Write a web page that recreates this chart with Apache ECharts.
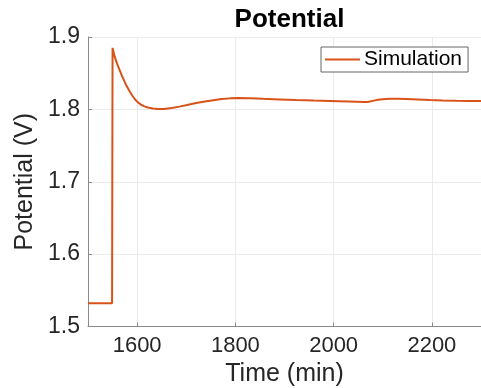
<!DOCTYPE html>
<html>
<head>
<meta charset="utf-8">
<script src="https://cdn.jsdelivr.net/npm/echarts@6/dist/echarts.min.js"></script>
<style>
  html, body { margin: 0; padding: 0; background: #fff; }
  #chart { width: 481px; height: 388px; }
</style>
</head>
<body>
<div id="chart"></div>
<script>
// values
const timeMin = [1500, 1549, 1550, 1554, 1559, 1564, 1569, 1574, 1579, 1585, 1590, 1595, 1601, 1608,
    1615, 1622, 1632, 1642, 1655, 1670, 1686, 1704, 1720, 1738, 1755, 1772, 1789, 1806,
    1830, 1856, 1890, 1924, 1960, 1992, 2030, 2062, 2068, 2074, 2082, 2090, 2100, 2114,
    2130, 2148, 2172, 2196, 2222, 2250, 2275, 2300];
const potential = [1.532, 1.532, 1.885, 1.8735, 1.8635, 1.855, 1.8465, 1.839, 1.8318, 1.8248, 1.8192, 1.8143, 1.8100, 1.8064,
    1.8042, 1.8026, 1.8012, 1.8004, 1.8006, 1.8018, 1.8038, 1.8064, 1.8087, 1.8109, 1.8127, 1.8142, 1.8152, 1.8156,
    1.8155, 1.8147, 1.8138, 1.8129, 1.8121, 1.8115, 1.8108, 1.8101, 1.8101, 1.8108, 1.8121, 1.8133, 1.8141, 1.8147,
    1.8147, 1.8143, 1.8136, 1.8129, 1.8123, 1.8119, 1.8116, 1.8115];
const xTicks = [1600, 1800, 2000, 2200];
const yTicks = [1.5, 1.6, 1.7, 1.8, 1.9];

const font = '"Liberation Sans", Arial, Helvetica, sans-serif';
const axisGray = '#8a8a8a';
const gridGray = '#ebebeb';
const lineColor = '#D95319';

const seriesData = timeMin.map((t, i) => [t, potential[i]]);

const chart = echarts.init(document.getElementById('chart'));
chart.setOption({
    animation: false,
    backgroundColor: '#fff',
    title: {
        text: 'Potential',
        left: 284.5,
        textAlign: 'center',
        top: 2,
        textStyle: { fontFamily: font, fontSize: 26, fontWeight: 'bold', color: '#000' }
    },
    legend: {
        left: 321,
        top: 47,
        padding: [2, 6, 2, 4],
        itemWidth: 35,
        itemHeight: 20,
        itemGap: 5,
        backgroundColor: '#fff',
        borderColor: '#666',
        borderWidth: 1,
        borderRadius: 0,
        icon: 'path://M0,9 L35,9 L35,11 L0,11 Z',
        textStyle: { fontFamily: font, fontSize: 21, color: '#000', padding: [0, 0, 0, -1] },
        data: ['Simulation']
    },
    grid: {
        left: 88,
        right: 0,
        top: 37,
        bottom: 61.5,
        outerBoundsMode: 'none'
    },
    xAxis: {
        type: 'value',
        min: 1500,
        max: 2300,
        name: 'Time (min)',
        nameLocation: 'middle',
        nameGap: 31,
        nameTextStyle: { fontFamily: font, fontSize: 25, color: '#262626' },
        axisLine: { show: true, lineStyle: { color: axisGray, width: 1 } },
        axisTick: { show: true, inside: true, length: 4, customValues: xTicks, lineStyle: { color: axisGray } },
        axisLabel: {
            customValues: xTicks,
            margin: 8,
            fontFamily: font,
            fontSize: 22,
            color: '#262626',
            formatter: (v) => String(v)
        },
        splitLine: { show: true, lineStyle: { color: gridGray, width: 1 } }
    },
    yAxis: {
        type: 'value',
        min: 1.5,
        max: 1.9,
        interval: 0.1,
        name: 'Potential (V)',
        nameLocation: 'middle',
        nameGap: 46,
        nameTextStyle: { fontFamily: font, fontSize: 25, color: '#262626' },
        axisLine: { show: true, lineStyle: { color: axisGray, width: 1 } },
        axisTick: { show: true, inside: true, length: 4, lineStyle: { color: axisGray } },
        axisLabel: {
            margin: 8,
            fontFamily: font,
            fontSize: 23,
            color: '#262626',
            formatter: (v) => yTicks.includes(Math.round(v * 10) / 10) ? v.toFixed(1) : ''
        },
        splitLine: { show: true, lineStyle: { color: gridGray, width: 1 } }
    },
    series: [
        {
            name: 'Simulation',
            type: 'line',
            data: seriesData,
            showSymbol: false,
            symbol: 'none',
            lineStyle: { color: lineColor, width: 2 },
            itemStyle: { color: lineColor },
            clip: true
        }
    ]
});
</script>
</body>
</html>
